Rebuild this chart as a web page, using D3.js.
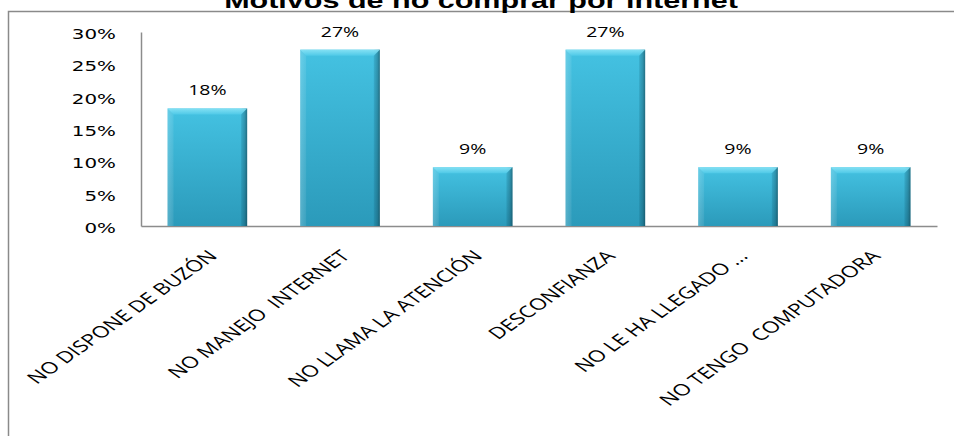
<!DOCTYPE html>
<html>
<head>
<meta charset="utf-8">
<script src="https://cdn.jsdelivr.net/npm/d3@7"></script>
<style>
  html, body { margin: 0; padding: 0; background: #fff; }
  svg { display: block; }
  text { white-space: pre; }
</style>
</head>
<body>
<svg id="chart" width="954" height="436"></svg>
<script>
// Motivos de no comprar por internet — 11 respuestas
const categories = [
  "NO DISPONE DE BUZÓN",
  "NO MANEJO  INTERNET",
  "NO LLAMA LA ATENCIÓN",
  "DESCONFIANZA",
  "NO LE HA LLEGADO ...",
  "NO TENGO  COMPUTADORA"
];
const percentages = [18.18, 27.27, 9.09, 27.27, 9.09, 9.09];
const yTicks = [0, 5, 10, 15, 20, 25, 30];
const title = "Motivos de no comprar por internet";

const svg = d3.select("#chart");
const stretch = 1.42; // horizontal widening applied to all text

// frame
svg.append("rect")
  .attr("x", 8.5).attr("y", 11.5)
  .attr("width", 1000).attr("height", 600)
  .attr("fill", "none").attr("stroke", "#8a8a8a").attr("stroke-width", 1.5);

// title
svg.append("text")
  .attr("transform", `translate(481,8) scale(${stretch},1)`)
  .attr("text-anchor", "middle")
  .attr("font-family", "Liberation Sans, Arial, sans-serif")
  .attr("font-weight", "bold")
  .attr("font-size", 21.5)
  .attr("fill", "#000")
  .text(title);

const x = d3.scaleBand().domain(categories).range([141, 937])
  .paddingInner(0.4).paddingOuter(0.2);
const y = d3.scaleLinear().domain([0, 30]).range([226, 32]);

// gradients
const defs = svg.append("defs");
const main = defs.append("linearGradient").attr("id", "barFill")
  .attr("x1", 0).attr("y1", 0).attr("x2", 0).attr("y2", 1);
main.append("stop").attr("offset", "0%").attr("stop-color", "#44c2e2");
main.append("stop").attr("offset", "100%").attr("stop-color", "#2b9aba");

const side = defs.append("linearGradient").attr("id", "barSide")
  .attr("x1", 0).attr("y1", 0).attr("x2", 1).attr("y2", 0);
side.append("stop").attr("offset", "0%").attr("stop-color", "#ffffff").attr("stop-opacity", 0.15);
side.append("stop").attr("offset", "8%").attr("stop-color", "#ffffff").attr("stop-opacity", 0.0);
side.append("stop").attr("offset", "92%").attr("stop-color", "#000000").attr("stop-opacity", 0.0);
side.append("stop").attr("offset", "97%").attr("stop-color", "#000000").attr("stop-opacity", 0.18);
side.append("stop").attr("offset", "100%").attr("stop-color", "#000000").attr("stop-opacity", 0.4);

const topShade = defs.append("linearGradient").attr("id", "barTop")
  .attr("x1", 0).attr("y1", 0).attr("x2", 0).attr("y2", 1);
topShade.append("stop").attr("offset", "0%").attr("stop-color", "#8fe6f7");
topShade.append("stop").attr("offset", "100%").attr("stop-color", "#52cbe9");

// axes lines
const axisColor = "#8c8c8c";
const yAxis = d3.axisLeft(y).tickValues(yTicks).tickSize(0).tickFormat(() => "");
svg.append("g").attr("transform", "translate(141,0)").call(yAxis)
  .call(g => g.select(".domain").attr("stroke", axisColor).attr("stroke-width", 1.5));
const xAxis = d3.axisBottom(x).tickSize(0).tickFormat(() => "");
svg.append("g").attr("transform", `translate(0,${y(0)})`).call(xAxis)
  .call(g => g.select(".domain").attr("stroke", axisColor).attr("stroke-width", 1.5));

// y tick labels
svg.append("g").selectAll("text").data(yTicks).join("text")
  .attr("transform", d => `translate(116,${y(d) + 2}) scale(${stretch},1)`)
  .attr("text-anchor", "end")
  .attr("dy", "0.35em")
  .attr("font-family", "DejaVu Sans, Verdana, sans-serif")
  .attr("font-size", 14)
  .attr("fill", "#000")
  .text(d => d + "%");

// bars
const bars = svg.append("g").selectAll("g").data(percentages).join("g");
const bevel = 6;
bars.append("rect")
  .attr("x", (d, i) => x(categories[i]))
  .attr("y", d => y(d))
  .attr("width", x.bandwidth())
  .attr("height", d => y(0) - y(d))
  .attr("fill", "url(#barFill)");
bars.append("rect")
  .attr("x", (d, i) => x(categories[i]))
  .attr("y", d => y(d))
  .attr("width", x.bandwidth())
  .attr("height", d => y(0) - y(d))
  .attr("fill", "url(#barSide)");
// top bevel
bars.append("path")
  .attr("d", (d, i) => {
    const x0 = x(categories[i]), x1 = x0 + x.bandwidth(), t = y(d);
    return `M${x0},${t}L${x1},${t}L${x1 - bevel},${t + bevel}L${x0 + bevel},${t + bevel}Z`;
  })
  .attr("fill", "url(#barTop)").attr("opacity", 0.85);
// left bevel highlight
bars.append("path")
  .attr("d", (d, i) => {
    const x0 = x(categories[i]), t = y(d), b = y(0);
    return `M${x0},${t}L${x0 + bevel},${t + bevel}L${x0 + bevel},${b}L${x0},${b}Z`;
  })
  .attr("fill", "#ffffff").attr("opacity", 0.07);
// right bevel shade
bars.append("path")
  .attr("d", (d, i) => {
    const x1 = x(categories[i]) + x.bandwidth(), t = y(d), b = y(0);
    return `M${x1},${t}L${x1},${b}L${x1 - bevel},${b}L${x1 - bevel},${t + bevel}Z`;
  })
  .attr("fill", "#0b5e78").attr("opacity", 0.15);

// value labels
svg.append("g").selectAll("text").data(percentages).join("text")
  .attr("transform", (d, i) =>
    `translate(${x(categories[i]) + x.bandwidth() / 2},${y(d) - 13}) scale(1.3,1)`)
  .attr("text-anchor", "middle")
  .attr("font-family", "Open Sans, sans-serif")
  .attr("font-size", 15)
  .attr("fill", "#000")
  .text(d => d3.format(".0f")(d) + "%");

// category labels
svg.append("g").selectAll("text").data(categories).join("text")
  .attr("transform", d =>
    `translate(${x(d) + x.bandwidth() / 2 + 11},257) scale(${stretch},1) rotate(-45)`)
  .attr("text-anchor", "end")
  .attr("font-family", "Open Sans, sans-serif")
  .attr("font-size", 16)
  .attr("fill", "#000")
  .text(d => d);
</script>
</body>
</html>
